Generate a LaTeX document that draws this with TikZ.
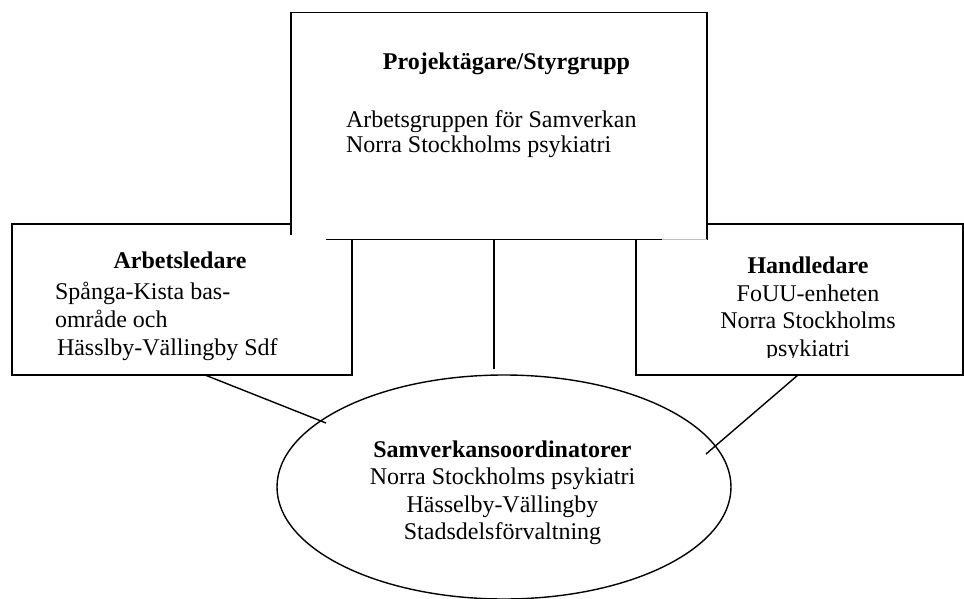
\documentclass[tikz,border=0pt]{standalone}
\usepackage{fontspec}
\setmainfont{Liberation Serif}
\usetikzlibrary{shapes.geometric}
\begin{document}
\begin{tikzpicture}[x=0.5pt,y=-0.5pt,
  every node/.style={inner sep=0pt,outer sep=0pt},
  line/.style={line width=0.7pt,black},
  box/.style={rectangle,draw,line width=0.7pt,fill=white},
  txt/.style={font=\fontsize{12pt}{13.8pt}\selectfont},
  bold/.style={font=\fontsize{12pt}{13.8pt}\selectfont\bfseries}]
\useasboundingbox (0,0) rectangle (964,599);
% side boxes
\node[box,minimum width=170pt,minimum height=75.5pt] (lbox) at (182,299.5) {};
\node[box,minimum width=163.5pt,minimum height=75.5pt] (rbox) at (799.5,299.5) {};
% top box (white, covers side boxes)
\node[rectangle,fill=white,minimum width=208pt,minimum height=113.5pt] (top) at (499,126) {};
\draw[line] ([yshift=2.5pt]top.south west) -- (top.north west) -- (top.north east) -- (top.south east);
\draw[line] ([xshift=17.5pt]top.south west) -- ([xshift=-22.5pt]top.south east);
\draw[line,black!25] ([xshift=-22.5pt]top.south east) -- (top.south east);
% ellipse
\node[ellipse,draw,line width=0.7pt,minimum width=227pt,minimum height=112pt] (ell) at (504,487) {};
% connectors
\coordinate (cTop) at ([xshift=-2.5pt]top.south);
\coordinate (cMid) at (494,369);
\draw[line] (cTop) -- (cMid);
\coordinate (lStart) at (lbox.south -| 205,0);
\coordinate (lEnd) at (326,423);
\draw[line] (lStart) -- (lEnd);
\coordinate (rStart) at (rbox.south -| 798,0);
\coordinate (rEnd) at (706,454);
\draw[line] (rStart) -- (rEnd);
% top box text
\node[bold,anchor=base] (t1) at (506.5,70) {Projektägare/Styrgrupp};
\node[txt,anchor=base west] (t2) at (346,127) {Arbetsgruppen för Samverkan};
\node[txt,anchor=base west] (t3) at (346,153) {Norra Stockholms psykiatri};
% left box text
\node[bold,anchor=base] (l1) at (180,268) {Arbetsledare};
\node[txt,anchor=base west] (l2) at (55,299) {Spånga-Kista bas-};
\node[txt,anchor=base west] (l3) at (55,327) {område och};
\node[txt,anchor=base west] (l4) at (57,355) {Hässlby-Vällingby Sdf};
% right box text
\node[bold,anchor=base] (r1) at (808,273) {Handledare};
\node[txt,anchor=base] (r2) at (808,301) {FoUU-enheten};
\node[txt,anchor=base] (r3) at (808,328) {Norra Stockholms};
\begin{scope}
\clip (700,330) rectangle (920,357);
\node[txt,anchor=base] (r4) at (808,356) {psykiatri};
\end{scope}
% ellipse text
\node[bold,anchor=base] (e1) at (502.5,457) {Samverkansoordinatorer};
\node[txt,anchor=base] (e2) at (502.5,484.6) {Norra Stockholms psykiatri};
\node[txt,anchor=base] (e3) at (502.5,512.2) {Hässelby-Vällingby};
\node[txt,anchor=base] (e4) at (502.5,539.8) {Stadsdelsförvaltning};
\end{tikzpicture}
\end{document}
